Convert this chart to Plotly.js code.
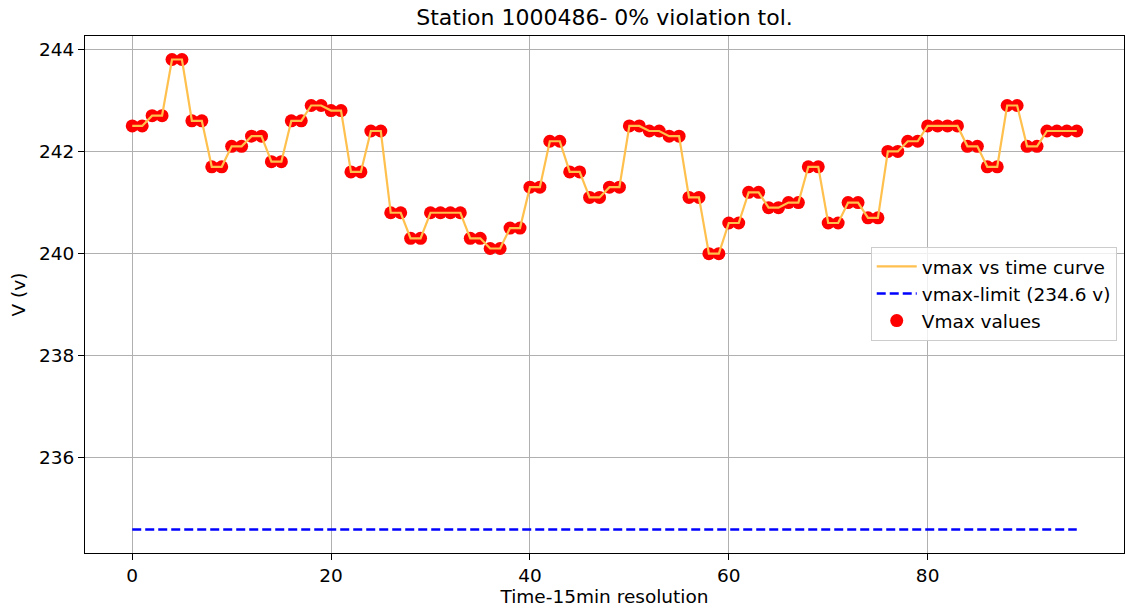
<!DOCTYPE html>
<html>
<head>
<meta charset="utf-8">
<script src="https://cdn.plot.ly/plotly-3.0.1.min.js"></script>
<style>html,body{margin:0;padding:0;background:#fff}#chart{width:1126px;height:613px}</style>
</head>
<body>
<div id="chart"></div>
<script>
const timeIdx = Array.from({length: 96}, (_, i) => i);
const vmaxValues = [
  242.5, 242.5, 242.7, 242.7, 243.8, 243.8, 242.6, 242.6,
  241.7, 241.7, 242.1, 242.1, 242.3, 242.3, 241.8, 241.8,
  242.6, 242.6, 242.9, 242.9, 242.8, 242.8, 241.6, 241.6,
  242.4, 242.4, 240.8, 240.8, 240.3, 240.3, 240.8, 240.8,
  240.8, 240.8, 240.3, 240.3, 240.1, 240.1, 240.5, 240.5,
  241.3, 241.3, 242.2, 242.2, 241.6, 241.6, 241.1, 241.1,
  241.3, 241.3, 242.5, 242.5, 242.4, 242.4, 242.3, 242.3,
  241.1, 241.1, 240.0, 240.0, 240.6, 240.6, 241.2, 241.2,
  240.9, 240.9, 241.0, 241.0, 241.7, 241.7, 240.6, 240.6,
  241.0, 241.0, 240.7, 240.7, 242.0, 242.0, 242.2, 242.2,
  242.5, 242.5, 242.5, 242.5, 242.1, 242.1, 241.7, 241.7,
  242.9, 242.9, 242.1, 242.1, 242.4, 242.4, 242.4, 242.4
];
const vmaxLimit = 234.6;
const limitValues = timeIdx.map(() => vmaxLimit);
const titleText = "Station 1000486- 0% violation tol.";
const seriesNames = ["vmax vs time curve", "vmax-limit (234.6 v)", "Vmax values"];
const xTicks = [0, 20, 40, 60, 80];
const yTicks = [236, 238, 240, 242, 244];

const font = "DejaVu Sans, sans-serif";

const traces = [
  {
    x: timeIdx, y: vmaxValues, type: "scatter", mode: "markers",
    name: seriesNames[2], legendrank: 3,
    marker: {color: "#ff0000", size: 13, line: {width: 0}}
  },
  {
    x: timeIdx, y: vmaxValues, type: "scatter", mode: "lines",
    name: seriesNames[0], legendrank: 1,
    line: {color: "#ffc04d", width: 2.2}
  },
  {
    x: timeIdx, y: limitValues, type: "scatter", mode: "lines",
    name: seriesNames[1], legendrank: 2,
    line: {color: "#0000ff", width: 2.5, dash: "9px,4px"}
  }
];

const axisCommon = {
  showgrid: true, gridcolor: "#b0b0b0", gridwidth: 1,
  zeroline: false, showline: true, linecolor: "#000", linewidth: 1, mirror: true,
  ticks: "outside", ticklen: 6, tickcolor: "#000", tickwidth: 1,
  tickfont: {family: font, size: 18.5, color: "#000"}
};

const layout = {
  width: 1126, height: 613,
  paper_bgcolor: "#fff", plot_bgcolor: "#fff",
  margin: {l: 85, r: 2, t: 36, b: 60},
  title: {text: titleText, font: {family: font, size: 22, color: "#000"}, x: 0.5, xref: "paper", xanchor: "center", y: 0.971, yanchor: "middle"},
  showlegend: true,
  legend: {
    x: 0.993, xanchor: "right", y: 0.592, yanchor: "top",
    bgcolor: "rgba(255,255,255,0.8)", bordercolor: "#cccccc", borderwidth: 1,
    font: {family: font, size: 18.5, color: "#000"},
    traceorder: "normal", itemwidth: 40
  },
  xaxis: Object.assign({}, axisCommon, {
    range: [-4.75, 99.75], tickvals: xTicks,
    title: {text: "Time-15min resolution", font: {family: font, size: 18.5, color: "#000"}, standoff: 4}
  }),
  yaxis: Object.assign({}, axisCommon, {
    range: [234.14, 244.26], tickvals: yTicks,
    title: {text: "V (v)", font: {family: font, size: 18.5, color: "#000"}, standoff: 8}
  })
};

Plotly.newPlot("chart", traces, layout, {displayModeBar: false, staticPlot: true});
</script>
</body>
</html>
